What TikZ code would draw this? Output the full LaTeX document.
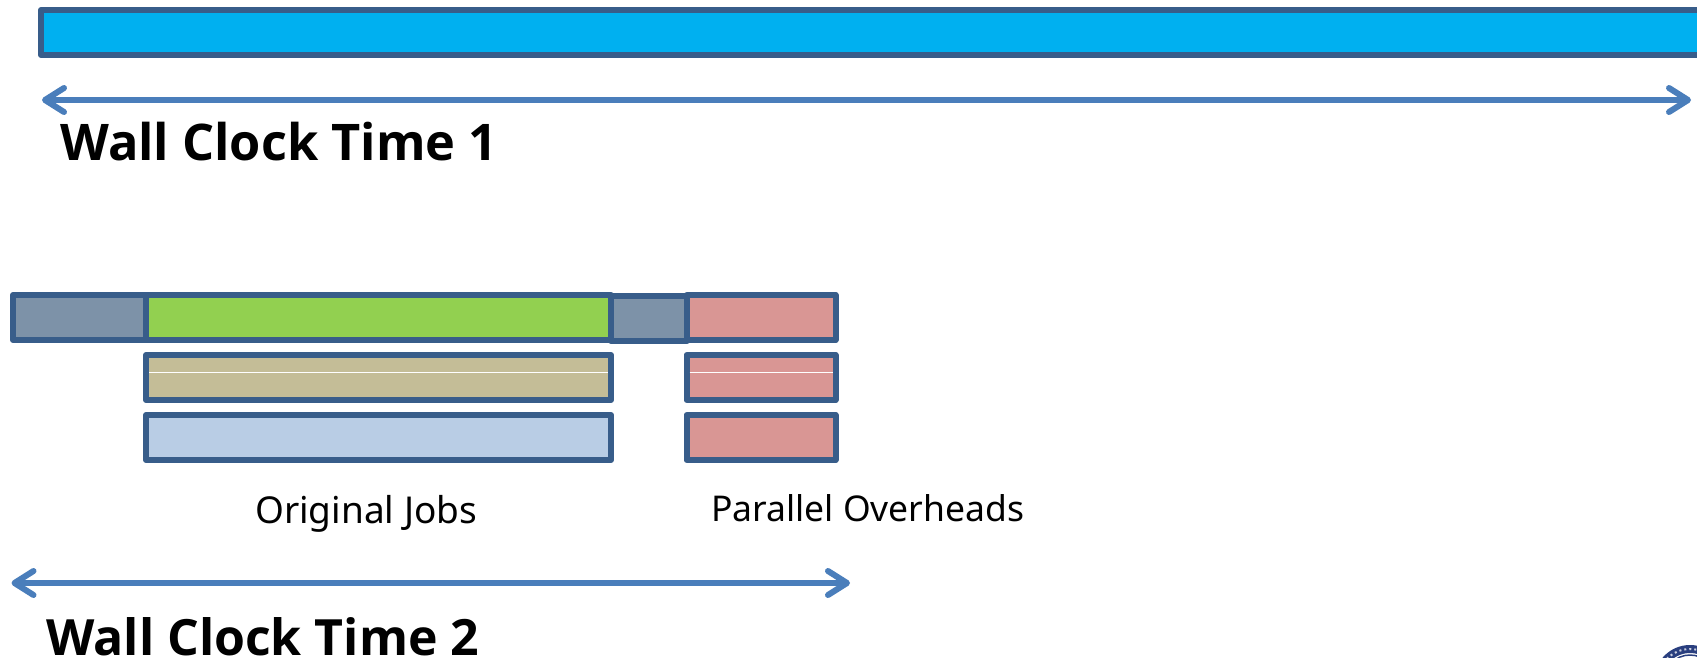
\documentclass[tikz,border=0pt]{standalone}
\usepackage{fontspec}
\setmainfont{Noto Sans}
\newfontfamily\headfont{Open Sans}[BoldFont={Open Sans Bold}]
\usetikzlibrary{arrows.meta}
\definecolor{barline}{HTML}{385D8A}
\definecolor{arrowblue}{HTML}{4A7EBB}
\definecolor{cyanbar}{HTML}{00B0F0}
\definecolor{slatebar}{HTML}{7D92A8}
\definecolor{greenbar}{HTML}{92D050}
\definecolor{tanbar}{HTML}{C4BD97}
\definecolor{bluebar}{HTML}{B9CDE5}
\definecolor{pinkbar}{HTML}{D99694}
\definecolor{logonavy}{HTML}{2A3F7F}
\tikzset{
  bar/.style={draw=barline,line width=6pt,line join=round,outer sep=0pt,inner sep=0pt,anchor=north west},
  span/.style={draw=arrowblue,line width=6pt,{Straight Barb[length=19pt,width=24pt,line cap=round,round]}-{Straight Barb[length=19pt,width=24pt,line cap=round,round]}},
  bigtext/.style={anchor=base west,inner sep=0pt,font=\headfont\bfseries\fontsize{50.5}{60}\selectfont,text=black},
  smalltext/.style={anchor=base west,inner sep=0pt,font=\fontsize{37}{44}\selectfont,text=black},
}
\begin{document}
\begin{tikzpicture}[x=1pt,y=-1pt]
\useasboundingbox (0,0) rectangle (1697,657);
\clip (0,0) rectangle (1697,657);
\fill[white] (0,0) rectangle (1697,657);
% top bar
\node[bar,fill=cyanbar,minimum width=1700pt,minimum height=45pt] (top) at (41,10) {};
\coordinate (a1l) at (42,100);
\coordinate (a1r) at (1691,100);
\draw[span] (a1l) -- (a1r);
\node[bigtext] (wc1) at (60,160) {Wall Clock Time 1};
% row 1
\node[bar,fill=slatebar,minimum width=133pt,minimum height=45pt] (g1) at (13,295) {};
\node[bar,fill=greenbar,minimum width=465pt,minimum height=45pt] (job1) at (146,295) {};
\node[bar,fill=slatebar,minimum width=76pt,minimum height=45pt] (g2) at (611,296) {};
\node[bar,fill=pinkbar,minimum width=149pt,minimum height=45pt] (ov1) at (686.5,295) {};
% row 2
\node[bar,fill=tanbar,minimum width=465pt,minimum height=45pt] (job2) at (146,355) {};
\node[bar,fill=pinkbar,minimum width=149pt,minimum height=45pt] (ov2) at (686.5,355) {};
\draw[white,line width=1pt] (149,372) -- (608,372);
\draw[white,line width=1pt] (689.5,372) -- (833,372);
% row 3
\node[bar,fill=bluebar,minimum width=465pt,minimum height=45pt] (job3) at (146,415) {};
\node[bar,fill=pinkbar,minimum width=149pt,minimum height=45pt] (ov3) at (686.5,415) {};
% labels
\node[smalltext] (oj) at (255,523) {Original Jobs};
\node[smalltext,font=\fontsize{35.5}{44}\selectfont] (po) at (711,521) {Parallel Overheads};
\coordinate (a2l) at (11.5,583);
\coordinate (a2r) at (850,583);
\draw[span] (a2l) -- (a2r);
\node[bigtext,font=\headfont\bfseries\fontsize{50}{60}\selectfont] (wc2) at (46,655) {Wall Clock Time 2};
% logo corner
\draw[logonavy,line width=8pt] (1690,681) circle (32);
\draw[white!75!logonavy,line width=2pt,dash pattern=on 2pt off 3pt] (1690,681) circle (32);
\draw[logonavy,line width=1.5pt] (1690,681) circle (26);
\end{tikzpicture}
\end{document}
